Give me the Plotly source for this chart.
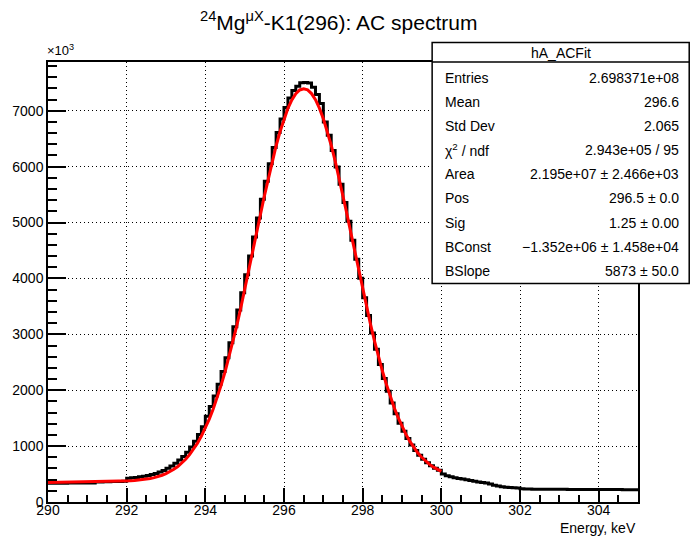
import numpy as np
import plotly.graph_objects as go

# ---------------- data (counts in units of 10^3) ----------------
hist_x_min = 290.0
hist_bin_width = 0.1
hist_counts = [
    # 290.0 - 290.9
    335, 336, 336, 337, 337, 338, 338, 339, 340, 340,
    # 291.0 - 291.9
    341, 342, 359, 360, 361, 363, 365, 367, 369, 372,
    # 292.0 - 292.9
    425, 432, 440, 450, 462, 476, 492, 512, 536, 564,
    # 293.0 - 293.9
    606, 646, 694, 750, 815, 892, 982, 1086, 1206, 1345,
    # 294.0 - 294.9
    1535, 1708, 1898, 2108, 2336, 2583, 2850, 3134, 3433, 3745,
    # 295.0 - 295.9
    4066, 4401, 4741, 5080, 5415, 5740, 6052, 6344, 6612, 6851,
    # 296.0 - 296.9
    7060, 7230, 7360, 7440, 7500, 7505, 7495, 7420, 7290, 7130,
    # 297.0 - 297.9
    6800, 6560, 6290, 5995, 5685, 5360, 5025, 4685, 4345, 4005,
    # 298.0 - 298.9
    3655, 3335, 3025, 2735, 2462, 2210, 1980, 1770, 1580, 1410,
    # 299.0 - 299.9
    1265, 1135, 1020, 922, 836, 763, 700, 648, 604, 567,
    # 300.0 - 300.9
    500, 470, 450, 435, 420, 410, 400, 385, 370, 360,
    # 301.0 - 301.9
    350, 338, 320, 300, 285, 272, 265, 260, 255, 250,
    # 302.0 - 302.9
    238, 234, 232, 230, 229, 228, 228, 227, 227, 226,
    # 303.0 - 303.9
    226, 226, 225, 225, 225, 224, 224, 224, 223, 223,
    # 304.0 - 304.9
    223, 223, 222, 222, 222, 222, 221, 221, 221, 221,
]

fit_x_min = 290.0
fit_step = 0.1
fit_values = [
    351, 352, 352, 353, 354, 354, 355, 355, 356, 356,
    357, 358, 359, 360, 361, 362, 364, 366, 368, 370,
    374, 378, 383, 390, 398, 408, 420, 436, 455, 479,
    508, 543, 585, 635, 695, 765, 847, 943, 1053, 1180,
    1323, 1484, 1665, 1865, 2086, 2325, 2585, 2863, 3157, 3468,
    3791, 4122, 4461, 4801, 5139, 5470, 5790, 6093, 6374, 6629,
    6852, 7042, 7194, 7304, 7372, 7394, 7373, 7307, 7197, 7047,
    6858, 6636, 6383, 6102, 5801, 5481, 5152, 4815, 4476, 4139,
    3808, 3487, 3177, 2884, 2608, 2348, 2111, 1890, 1692, 1513,
    1352, 1210, 1085, 976, 881, 800, 731, 673, 624, 583,
    549,
]

title_text = "<sup>24</sup>Mg<sup>\u03bcX</sup>-K1(296): AC spectrum"
stats_title = "hA_ACFit"
stats_labels = ["Entries", "Mean", "Std Dev", "\u03c7<sup>2</sup> / ndf", "Area",
                "Pos", "Sig", "BConst", "BSlope"]
stats_values = ["2.698371e+08", "296.6", "2.065", "2.943e+05 / 95",
                "2.195e+07 \u00b1 2.466e+03", "296.5 \u00b1 0.0", "1.25 \u00b1 0.00",
                "\u22121.352e+06 \u00b1 1.458e+04", "5873 \u00b1 50.0"]
x_title = "Energy, keV"
y_mult = "\u00d710<sup>3</sup>"

# ---------------- build ----------------
nb = len(hist_counts)
edges = hist_x_min + hist_bin_width * np.arange(nb + 1)
hy = list(hist_counts) + [hist_counts[-1]]
fx = fit_x_min + fit_step * np.arange(len(fit_values))

FONT = "Liberation Sans, Arial, Helvetica, sans-serif"
W, H = 693, 541
ML, MR, MT, MB = 39, 55, 62, 39
PW, PH = W - ML - MR, H - MT - MB


def px(x):
    return (x - ML) / PW


def py(y):
    return (H - MB - y) / PH


fig = go.Figure()
fig.add_trace(go.Scatter(x=edges, y=hy, mode="lines", line=dict(color="black", width=3, shape="hv"),
                         hoverinfo="skip", showlegend=False))
fig.add_trace(go.Scatter(x=fx, y=fit_values, mode="lines", line=dict(color="#ff0000", width=3),
                         hoverinfo="skip", showlegend=False))

axis_common = dict(showline=True, linecolor="black", linewidth=1.5, mirror=True,
                   ticks="inside", tickcolor="black", tickwidth=1.5,
                   showgrid=True, gridcolor="black", gridwidth=1, griddash="1px,3px",
                   zeroline=False, tickfont=dict(family=FONT, size=14, color="black"))

fig.update_xaxes(range=[290, 305], tick0=290, dtick=2, ticklen=14, ticklabelstandoff=-6,
                 minor=dict(dtick=0.5, tick0=290, ticklen=7, ticks="inside", tickcolor="black", tickwidth=1.5,
                            showgrid=False),
                 **axis_common)
fig.update_yaxes(range=[0, 7872], tick0=0, dtick=1000, ticklen=18,
                 minor=dict(dtick=200, tick0=0, ticklen=9, ticks="inside", tickcolor="black", tickwidth=1.5,
                            showgrid=False),
                 **axis_common)

shapes = []
bx0, bx1, by0, by1 = 429, 690, 42.5, 283.5
shapes.append(dict(type="rect", xref="paper", yref="paper", x0=px(bx0), x1=px(bx1), y0=py(by1), y1=py(by0),
                   fillcolor="white", line=dict(color="black", width=1.5), layer="above"))
shapes.append(dict(type="line", xref="paper", yref="paper", x0=px(bx0), x1=px(bx1), y0=py(62), y1=py(62),
                   line=dict(color="black", width=1.5), layer="above"))

ann = []
ann.append(dict(text=title_text, x=px(334), y=py(21), xref="paper", yref="paper", showarrow=False,
                xanchor="center", yanchor="middle", font=dict(family=FONT, size=21, color="black")))
ann.append(dict(text=stats_title, x=px((bx0 + bx1) / 2), y=py(52.5), xref="paper", yref="paper", showarrow=False,
                xanchor="center", yanchor="middle", font=dict(family=FONT, size=14, color="black")))
row_y = 78
for lab, val in zip(stats_labels, stats_values):
    ann.append(dict(text=lab, x=px(440), y=py(row_y), xref="paper", yref="paper", showarrow=False,
                    xanchor="left", yanchor="middle", font=dict(family=FONT, size=14, color="black")))
    ann.append(dict(text=val, x=px(682), y=py(row_y), xref="paper", yref="paper", showarrow=False,
                    xanchor="right", yanchor="middle", font=dict(family=FONT, size=14, color="black")))
    row_y += 24.1
ann.append(dict(text=x_title, x=px(638), y=py(528), xref="paper", yref="paper", showarrow=False,
                xanchor="right", yanchor="middle", font=dict(family=FONT, size=14, color="black")))
ann.append(dict(text=y_mult, x=px(36), y=py(50), xref="paper", yref="paper", showarrow=False,
                xanchor="left", yanchor="middle", font=dict(family=FONT, size=13, color="black")))

fig.update_layout(width=W, height=H, margin=dict(l=ML, r=MR, t=MT, b=MB, pad=0),
                  paper_bgcolor="white", plot_bgcolor="white", shapes=shapes, annotations=ann,
                  showlegend=False)

fig.write_html("out.html")
